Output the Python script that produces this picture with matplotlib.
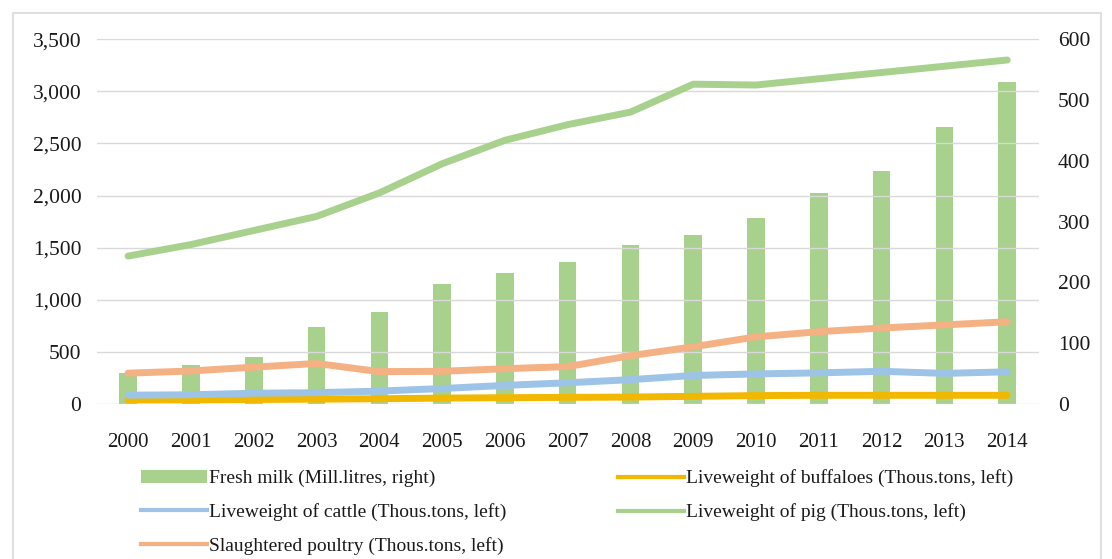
import matplotlib.pyplot as plt
from matplotlib.patches import Rectangle
from matplotlib.lines import Line2D
from matplotlib.patches import Patch
import numpy as np

plt.rcParams['font.family'] = ['Liberation Serif', 'DejaVu Serif']

years = [str(y) for y in range(2000, 2015)]
fresh_milk = [51, 64, 77, 127, 151, 197, 215, 233, 261, 278, 306, 347, 383, 456, 529]
buffaloes = [40, 42, 45, 48, 52, 58, 62, 65, 68, 75, 82, 85, 85, 85, 85]
cattle = [86, 90, 105, 110, 125, 150, 180, 205, 235, 275, 290, 300, 315, 295, 310]
pig = [1420, 1530, 1665, 1800, 2025, 2305, 2530, 2680, 2800, 3068, 3060, 3120, 3180, 3240, 3300]
poultry = [297, 318, 355, 390, 312, 315, 340, 360, 465, 550, 645, 695, 730, 760, 790]

bar_color = '#A9D18E'
pig_color = '#A9D18E'
buff_color = '#F2B800'
cattle_color = '#9DC3E6'
poultry_color = '#F4B183'
grid_color = '#D9D9D9'
text_color = '#1a1a1a'

fig = plt.figure(figsize=(11.12, 5.59), dpi=100)
ax = fig.add_axes([0.087, 0.277, 0.847, 0.653])
ax2 = ax.twinx()

x = np.arange(len(years))
ax2.bar(x, fresh_milk, width=0.28, color=bar_color, zorder=1)

lw = 5
ax.plot(x, buffaloes, color=buff_color, lw=lw, solid_capstyle='round', zorder=3)
ax.plot(x, cattle, color=cattle_color, lw=lw, solid_capstyle='round', zorder=3)
ax.plot(x, pig, color=pig_color, lw=lw, solid_capstyle='round', zorder=3)
ax.plot(x, poultry, color=poultry_color, lw=lw, solid_capstyle='round', zorder=3)

# lines drawn over the bars
ax.set_zorder(ax2.get_zorder() + 1)
ax.patch.set_visible(False)

ax.set_xlim(-0.5, len(years) - 0.5)
ax.set_ylim(0, 3500)
ax2.set_ylim(0, 600)
ax.set_yticks(range(0, 3501, 500))
ax.set_yticklabels([f"{v:,}" for v in range(0, 3501, 500)])
ax2.set_yticks(range(0, 601, 100))
ax.set_xticks(x)
ax.set_xticklabels(years)

ax.grid(axis='y', color=grid_color, lw=1)
ax.set_axisbelow(True)
for a in (ax, ax2):
    for s in a.spines.values():
        s.set_visible(False)
    a.tick_params(length=0)
ax.tick_params(axis='y', labelsize=15.5, pad=11, colors=text_color)
ax2.tick_params(axis='y', labelsize=15.5, pad=14, colors=text_color)
ax.tick_params(axis='x', labelsize=15, pad=21, colors=text_color)

# outer border
fig.patches.append(Rectangle((0.012, -0.1), 0.978, 1.077, transform=fig.transFigure,
                             fill=False, edgecolor='#D9D9D9', lw=1.2))

h_milk = Patch(facecolor=bar_color, edgecolor='none')
h_buff = Line2D([], [], color=buff_color, lw=3)
h_cattle = Line2D([], [], color=cattle_color, lw=3)
h_pig = Line2D([], [], color=pig_color, lw=3)
h_poultry = Line2D([], [], color=poultry_color, lw=3)

leg_kw = dict(frameon=False, fontsize=14, handlelength=3.4, handletextpad=0.1,
              labelspacing=0.82, borderaxespad=0, borderpad=0,
              labelcolor=text_color)
fig.legend([h_milk, h_cattle, h_poultry],
           ["Fresh milk (Mill.litres, right)",
            "Liveweight of cattle (Thous.tons, left)",
            "Slaughtered poultry (Thous.tons, left)"],
           loc='upper left', bbox_to_anchor=(0.127, 0.16), **leg_kw)
fig.legend([h_buff, h_pig],
           ["Liveweight of buffaloes (Thous.tons, left)",
            "Liveweight of pig (Thous.tons, left)"],
           loc='upper left', bbox_to_anchor=(0.556, 0.16), **leg_kw)

fig.savefig('out.png', dpi=100)
